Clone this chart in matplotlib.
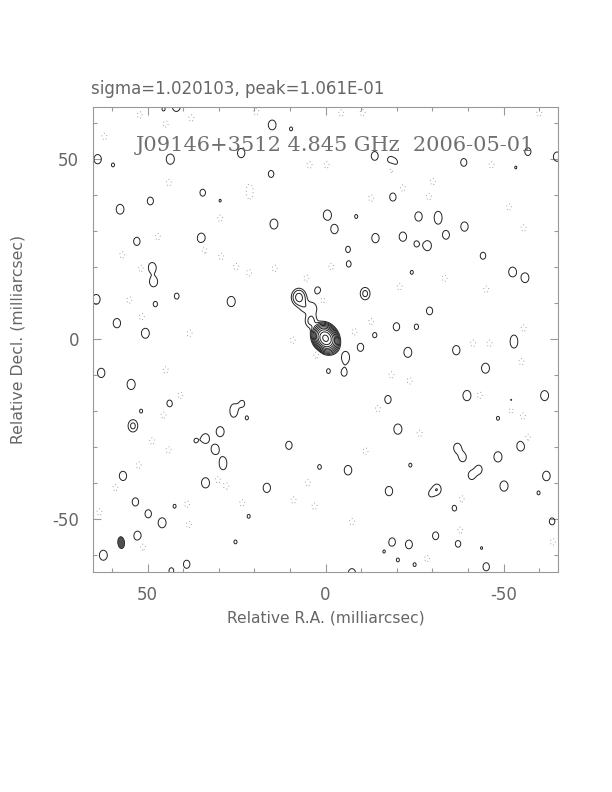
import numpy as np
import matplotlib
matplotlib.use("Agg")
import matplotlib.pyplot as plt
from matplotlib.patches import Ellipse

plt.rcParams['axes.unicode_minus'] = False

# Componentes da fonte (x, y em mas; amplitude em unidades do menor contorno)
core_x = [0.0, 1.0, -1.2]
core_y = [0.2, 1.4, -1.4]
core_amp = [640.0, 10.0, 5.0]

jet_x = [7.5, 4.1, 3.6, 6.0]
jet_y = [11.6, 5.0, 8.6, 9.0]
jet_amp = [5.5, 2.6, 1.6, 1.5]

# Ruido positivo (contornos solidos)
pos_x = [41.9, 45.5, 15.0, 9.7, 64.0, 59.7, 43.6, 23.7, 15.3, 34.5, 29.6, 49.2,
         57.7, 14.5, -0.5, 34.9, 53.0, 48.7, 48.3, 41.8, 47.8, 64.4, 26.5, 2.2,
         58.6, 50.6, -6.5, -11.2, -19.9, -13.8, -9.8, -5.6, -5.6, -0.8, -5.2,
         -13.8, -18.0, -19.6, -38.8, -56.8, -65.0, -53.4, -18.9, -2.5, -8.6, -14.0,
         -21.7, -25.5, -28.6, -26.1, -31.6, -31.6, -33.8, -39.0, -6.3, -44.2, -24.2,
         -52.5, -56.0, -11.0, -29.2, -25.5,
         -23.1, -36.7, -52.9, -52.9, -44.9, -39.7, -61.5, -52.1, -48.4, -17.5, -20.3,
         -37.0, -38.5, -48.4, -54.8, -6.3, -23.8, -41.0, -43.0, -50.1, -62.0, -17.8,
         -31.3, -29.5, -36.2, -59.8, -63.6, -30.9, -18.7, -23.4, -37.2, -43.8, -20.3,
         -25.0, -45.1, -7.4, -16.4,
         63.0, 54.6, 43.8, 51.8, 54.1, 25.8, 25.8, 23.4, 22.1, 29.6, 33.7, 36.5, 31.0,
         28.8, 28.8, 10.3, 1.7, 56.9, 33.7, 16.5, 53.4, 42.4, 49.8, 45.9, 21.6, 52.8,
         62.4, 39.0, 43.3, 25.3]
pos_y = [64.5, 63.8, 59.4, 58.3, 49.9, 48.3, 49.9, 51.6, 45.8, 40.6, 38.4, 38.3,
         36.0, 31.9, 34.4, 28.0, 27.1, 19.8, 15.9, 11.9, 9.7, 11.0, 10.4, 13.4,
         4.4, 1.6, 20.8, 12.5, 3.4, 1.1, -2.3, -4.4, -5.8, -8.9, -9.3,
         50.8, 49.7, 48.9, 49.0, 52.0, 50.6, 47.6, 39.4, 30.5, 34.0, 28.0,
         28.4, 26.4, 25.9, 34.0, 34.5, 32.8, 28.9, 31.2, 24.9, 23.1, 18.5,
         18.6, 17.0, 12.7, 7.8, 3.4,
         -3.7, -3.1, 0.2, -1.6, -8.1, -15.7, -15.7, -17.1, -22.0, -16.8, -25.0,
         -30.2, -32.8, -32.7, -29.7, -36.4, -35.0, -37.8, -36.2, -40.8, -38.0, -42.2,
         -41.7, -43.0, -46.9, -42.7, -50.6, -54.6, -56.3, -57.0, -56.8, -58.0, -61.3,
         -62.6, -63.2, -65.0, -59.0,
         -9.4, -12.6, -17.9, -20.0, -24.1, -19.0, -20.8, -17.9, -21.9, -25.7, -27.6, -28.2, -30.6,
         -33.6, -35.4, -29.5, -35.5, -38.0, -39.9, -41.3, -45.2, -46.4, -48.5, -51.0, -49.2, -54.6,
         -60.0, -62.5, -64.3, -56.3]
pos_amp = [1.8, 1.1, 1.8, 1.1, 1.7, 1.1, 1.9, 1.7, 1.35, 1.35, 1.05, 1.45,
           1.8, 1.85, 1.9, 1.85, 1.5, 1.9, 1.9, 1.25, 1.2, 1.8, 1.9, 1.45,
           1.7, 1.85, 1.25, 1.35, 1.5, 1.2, 1.5, 1.1, 1.1, 1.15, 1.4,
           1.6, 1.15, 1.15, 1.45, 1.45, 1.7, 1.05, 1.5, 1.7, 1.1, 1.7,
           1.7, 1.25, 1.85, 1.7, 1.15, 1.15, 1.6, 1.7, 1.25, 1.35, 1.1,
           1.8, 1.8, 1.2, 1.45, 1.2,
           1.85, 1.7, 1.15, 1.15, 1.85, 1.9, 1.85, 1.1, 1.1, 1.5, 1.9,
           1.7, 1.65, 1.9, 1.85, 1.75, 1.1, 1.55, 1.55, 1.9, 1.75, 1.7,
           1.9, 1.1, 1.25, 1.1, 1.35, 1.45, 1.5, 1.6, 1.35, 1.05, 1.1,
           1.1, 1.5, 1.7, 1.05,
           1.7, 1.9, 1.35, 1.1, 2.5, 1.15, 1.15, 1.25, 1.1, 1.85, 1.75, 1.1, 1.85,
           1.15, 1.15, 1.5, 1.15, 1.7, 1.9, 1.7, 1.5, 1.1, 1.5, 1.85, 1.1, 1.7,
           1.85, 1.5, 1.25, 1.1]

# Ruido negativo (contornos pontilhados)
neg_x = [52.2, 37.7, 44.9, 62.1, 19.5, 4.5, -0.3, 21.3, 21.3, 44.0, 29.6, 47.1,
         57.1, 51.8, 29.3, 25.1, 21.5, 14.3, 5.4, 55.1, 51.6, 34.0, 38.2,
         0.9, -12.8, -8.1, 9.2, 2.6, -18.5,
         -4.4, -10.4, -12.8, -21.7, -29.0, -30.1, -18.5, -46.6, -51.5, -55.6, -33.4,
         -45.1, -20.8, -1.6, -60.0, -55.6,
         44.9, 40.8, 45.5, 48.7, 44.1, 52.5, 59.0, 30.3, 27.9, 38.9, 38.4, 23.4,
         9.0, 5.0, 3.1, 63.5, 51.3,
         -14.7, -23.6, -26.4, -11.2, -41.4, -46.0, -55.0, -43.3, -52.1, -55.4, -56.8,
         -7.4, -38.2, -37.8, -28.5, -63.8]
neg_y = [62.2, 61.3, 59.7, 56.2, 63.1, 48.3, 48.3, 42.0, 39.8, 43.4, 33.5, 28.4,
         23.3, 19.6, 22.9, 20.1, 18.4, 19.6, 16.9, 10.8, 6.2, 24.7, 1.6,
         10.8, 4.8, 2.0, -0.3, -4.4, -10.0,
         62.7, 62.8, 39.1, 41.9, 39.5, 43.7, 47.0, 48.3, 36.6, 30.8, 16.9,
         13.8, 14.5, 20.1, 62.7, 3.0,
         -8.6, -15.6, -21.1, -28.3, -30.8, -35.0, -41.2, -39.0, -40.8, -45.8, -51.5, -45.5,
         -44.7, -39.9, -46.4, -48.0, -57.7,
         -19.3, -11.6, -26.2, -31.1, -1.2, -1.2, -6.3, -15.6, -19.7, -21.4, -27.3,
         -50.7, -44.4, -53.1, -60.9, -56.3]
neg_amp = [-1.35] * len(neg_x)

levels = [-1, 1, 2, 4, 8, 16, 32, 64, 128, 256, 512]

# Feixe sintetizado (mas)
beam_x, beam_y = 57.4, -56.5
beam_major, beam_minor, beam_pa = 3.3, 1.9, -5.0


def gauss_field(X, Y, xs, ys, amps, sx, sy):
    Z = np.zeros_like(X)
    for x0, y0, a in zip(xs, ys, amps):
        Z += a * np.exp(-((X - x0) ** 2 / (2 * sx ** 2) + (Y - y0) ** 2 / (2 * sy ** 2)))
    return Z


def main():
    grid = np.linspace(-67, 67, 640)
    X, Y = np.meshgrid(grid, grid)

    # Nucleo ligeiramente inclinado (NW-SE)
    ang = np.deg2rad(30)
    rot = lambda x, y: (x * np.cos(ang) - y * np.sin(ang), x * np.sin(ang) + y * np.cos(ang))
    Xr, Yr = rot(X, Y)
    cxr, cyr = rot(np.array(core_x), np.array(core_y))
    Z = gauss_field(Xr, Yr, cxr, cyr, core_amp, 1.1, 1.35)
    Z += gauss_field(X, Y, jet_x, jet_y, jet_amp, 1.15, 1.35)
    Z += gauss_field(X, Y, pos_x, pos_y, pos_amp, 1.0, 1.25)
    Z += gauss_field(X, Y, neg_x, neg_y, neg_amp, 0.9, 1.15)

    fig = plt.figure(figsize=(6.12, 7.92), dpi=100)
    ax = fig.add_axes([0.152, 0.278, 0.760, 0.587])

    pos_levels = [l for l in levels if l > 0]
    neg_levels = [l for l in levels if l < 0]
    ax.contour(X, Y, Z, levels=pos_levels, colors='#222222', linewidths=0.7)
    ax.contour(X, Y, Z, levels=neg_levels, colors='#888888', linewidths=0.7,
               linestyles=[(0, (0.8, 3.0))])

    ax.add_patch(Ellipse((beam_x, beam_y), beam_minor, beam_major, angle=beam_pa,
                         facecolor='#505050', edgecolor='#222222', linewidth=0.6))

    ax.set_xlim(65.3, -65.3)
    ax.set_ylim(-64.6, 64.4)
    ax.set_aspect('auto')

    frame = '#999999'
    for sp in ax.spines.values():
        sp.set_color(frame)
        sp.set_linewidth(0.8)
    ax.set_xticks([50, 0, -50])
    ax.set_yticks([-50, 0, 50])
    ax.set_xticks(np.arange(-60, 61, 10), minor=True)
    ax.set_yticks(np.arange(-60, 61, 10), minor=True)
    ax.tick_params(which='both', direction='in', top=True, right=True, color=frame,
                   labelcolor='#666666', labelsize=12)
    ax.tick_params(which='major', length=5.8, width=0.8, pad=10)
    ax.tick_params(which='minor', length=3, width=0.8)

    ax.set_xlabel("Relative R.A. (milliarcsec)", fontsize=11.2, color='#666666', labelpad=5)
    ax.set_ylabel("Relative Decl. (milliarcsec)", fontsize=11.3, color='#666666', labelpad=19)

    fig.text(0.149, 0.881, "sigma=1.020103, peak=1.061E-01", fontsize=12,
             color='#666666', ha='left', va='baseline')
    ax.text(0.52, 0.906, "J09146+3512 4.845 GHz  2006-05-01", transform=ax.transAxes,
            fontsize=15, family='DejaVu Serif', color='#707070', ha='center', va='baseline')

    fig.savefig("out.png", dpi=100)


if __name__ == "__main__":
    main()
